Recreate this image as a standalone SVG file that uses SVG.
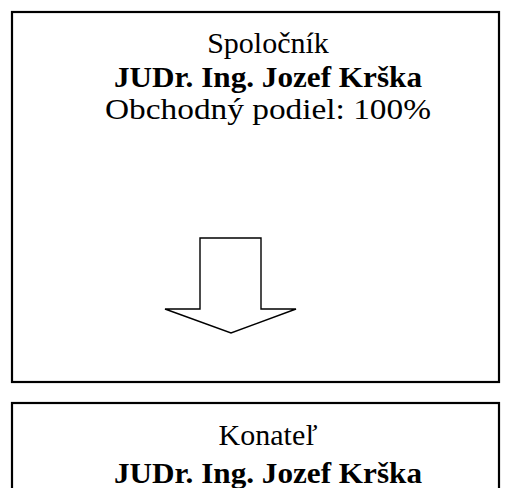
<svg xmlns="http://www.w3.org/2000/svg" width="512" height="488" viewBox="0 0 512 488">
<style>
.box{fill:#fff;stroke:#000;stroke-width:2.2}
.t{font-family:"Liberation Serif","DejaVu Serif",serif;font-size:30px;fill:#000;text-anchor:middle}
.b{font-weight:bold}
.arrow{fill:#fff;stroke:#000;stroke-width:1.4;stroke-linejoin:miter}
</style>
<rect width="512" height="488" fill="#fff"/>
<g id="spolocnik">
<rect class="box" x="12" y="12" width="487" height="370"/>
<text class="t" x="268" y="53">Spoločník</text>
<text class="t b" x="268" y="87" textLength="308" lengthAdjust="spacingAndGlyphs">JUDr. Ing. Jozef Krška</text>
<text class="t" x="268" y="119" textLength="326" lengthAdjust="spacingAndGlyphs">Obchodný podiel: 100%</text>
</g>
<g id="konatel">
<rect class="box" x="12" y="403" width="487" height="120"/>
<text class="t" x="268" y="445">Konateľ</text>
<text class="t b" x="268" y="483" textLength="308" lengthAdjust="spacingAndGlyphs">JUDr. Ing. Jozef Krška</text>
</g>
<g id="connectors">
<path class="arrow" d="M200,238 L261,238 L261,309 L296,309 L231,333 L165,309 L200,309 Z"/>
</g>
</svg>
